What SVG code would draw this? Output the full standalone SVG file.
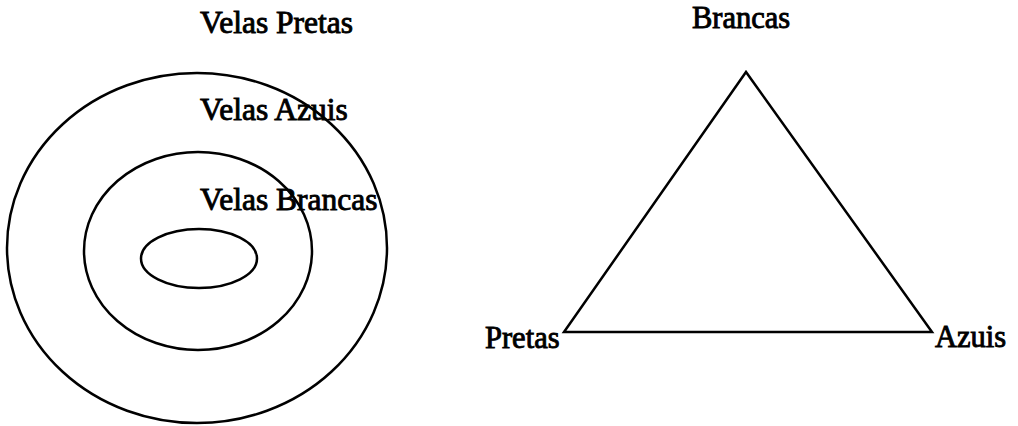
<svg xmlns="http://www.w3.org/2000/svg" width="1018" height="426" viewBox="0 0 1018 426">
<style>
.s{fill:none;stroke:#000;stroke-width:2.5}
.t{font-family:"Liberation Serif","Times New Roman",serif;font-size:30.5px;fill:#000;stroke:#000;stroke-width:0.9}
.b{font-size:31.5px}
</style>
<rect width="1018" height="426" fill="#fff"/>
<g id="ellipses">
<g id="outer"><ellipse class="s" cx="197" cy="248" rx="190" ry="175"/></g>
<g id="middle"><ellipse class="s" cx="198" cy="251" rx="114" ry="99"/></g>
<g id="inner"><ellipse class="s" cx="199" cy="258.5" rx="58" ry="29.5"/></g>
</g>
<g id="labels-left">
<text class="t b" x="200" y="33">Velas Pretas</text>
<text class="t b" x="200" y="120">Velas Azuis</text>
<text class="t b" x="200" y="210">Velas Brancas</text>
</g>
<g id="triangle">
<polygon class="s" points="746,72 564,332 932,332" stroke-linejoin="miter"/>
</g>
<g id="labels-right">
<text class="t" x="692" y="28">Brancas</text>
<text class="t" x="485" y="348">Pretas</text>
<text class="t" x="935" y="347">Azuis</text>
</g>
</svg>
